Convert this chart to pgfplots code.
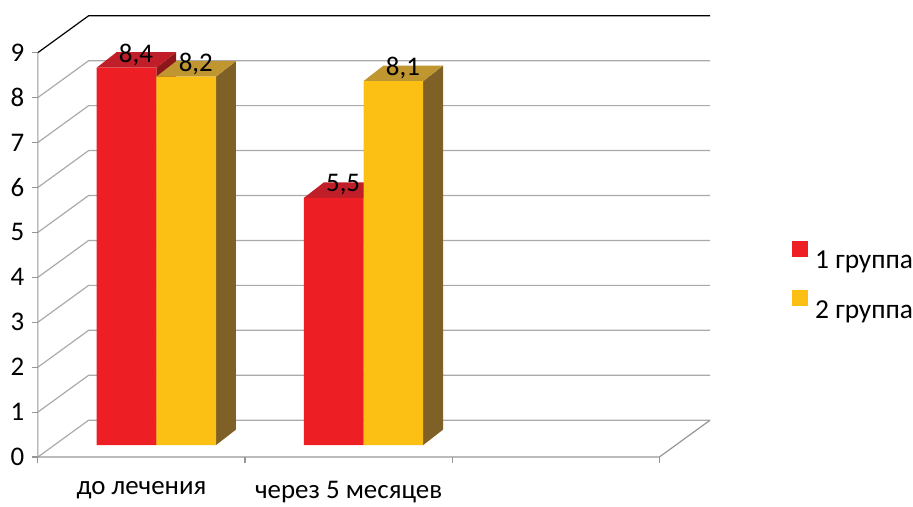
\documentclass[border=0pt]{standalone}
\usepackage{fontspec}
\setmainfont{Carlito}
\usepackage{pgfplots}
\pgfplotsset{compat=1.18}
\definecolor{cRed}{RGB}{237,30,36}
\definecolor{cRedTop}{RGB}{192,30,40}
\definecolor{cRedSide}{RGB}{140,22,26}
\definecolor{cYel}{RGB}{252,192,20}
\definecolor{cYelTop}{RGB}{192,150,48}
\definecolor{cYelSide}{RGB}{127,97,40}
\definecolor{gridc}{RGB}{170,170,170}
\definecolor{tickc}{RGB}{150,150,150}
\begin{document}
\begin{tikzpicture}
\begin{axis}[
  width=913pt, height=502pt, scale only axis,
  xmin=-0.1828, xmax=4.2088, ymin=-0.960, ymax=10.171,
  enlargelimits=false, clip=false,
  axis lines=middle, axis line style={draw=none,-},
  hide obscured x ticks=false, hide obscured y ticks=false,
  ytick={0,1,2,3,4,5,6,7,8,9},
  xtick={0,1,2,3}, xticklabels={,,,},
  extra x ticks={0.5,1.5},
  extra x tick labels={до лечения,через 5 месяцев},
  extra x tick style={major tick length=0pt, xticklabel style={yshift=-21pt}},
  tick align=outside, major tick length=6pt,
  tick style={draw=tickc, line width=1.2pt},
  tick label style={font=\fontsize{27}{32}\selectfont, text=black},
  yticklabel style={xshift=-4pt},
  /pgf/number format/assume math mode=true,
  /pgf/number format/use comma,
  legend cell align=left,
  legend image code/.code={\fill[#1] (0pt,-8pt) rectangle (16pt,8pt);},
  legend style={at={(axis cs:3.641,3.930)}, anchor=west, draw=none, fill=none,
    inner sep=0pt, nodes={inner sep=0pt}, column sep=7pt, row sep=20pt,
    font=\fontsize{27.5}{32}\selectfont},
]
% walls and grid
\addplot[gridc, line width=1.2pt, no marks, forget plot] coordinates {(0,0) (0.245,0.82) (3.245,0.82)};
\addplot[gridc, line width=1.2pt, no marks, forget plot] coordinates {(0,1) (0.245,1.82) (3.245,1.82)};
\addplot[gridc, line width=1.2pt, no marks, forget plot] coordinates {(0,2) (0.245,2.82) (3.245,2.82)};
\addplot[gridc, line width=1.2pt, no marks, forget plot] coordinates {(0,3) (0.245,3.82) (3.245,3.82)};
\addplot[gridc, line width=1.2pt, no marks, forget plot] coordinates {(0,4) (0.245,4.82) (3.245,4.82)};
\addplot[gridc, line width=1.2pt, no marks, forget plot] coordinates {(0,5) (0.245,5.82) (3.245,5.82)};
\addplot[gridc, line width=1.2pt, no marks, forget plot] coordinates {(0,6) (0.245,6.82) (3.245,6.82)};
\addplot[gridc, line width=1.2pt, no marks, forget plot] coordinates {(0,7) (0.245,7.82) (3.245,7.82)};
\addplot[gridc, line width=1.2pt, no marks, forget plot] coordinates {(0,8) (0.245,8.82) (3.245,8.82)};
\addplot[black, line width=1.2pt, no marks, forget plot] coordinates {(0,9) (0.245,9.82) (3.245,9.82)};
% front axis lines
\addplot[tickc, line width=1.2pt, no marks, forget plot] coordinates {(0,9) (0,0) (3,0) (3.245,0.82)};
% red (1 группа)
\addplot[fill=cRedSide, draw=none, forget plot] coordinates {(0.572,0.266) (0.668,0.610) (0.668,9.010) (0.572,8.666)};
\addplot[fill=cRedTop, draw=none, forget plot] coordinates {(0.284,8.666) (0.572,8.666) (0.668,9.010) (0.380,9.010)};
\addplot[fill=cRedSide, draw=none, forget plot] coordinates {(1.572,0.266) (1.668,0.610) (1.668,6.110) (1.572,5.766)};
\addplot[fill=cRedTop, draw=none, forget plot] coordinates {(1.284,5.766) (1.572,5.766) (1.668,6.110) (1.380,6.110)};
\addplot[ybar, bar width=0.288, bar shift=-0.072, fill=cRed, draw=none, yshift=12pt,
  nodes near coords,
  nodes near coords style={anchor=center, xshift=-5.5pt, yshift=13pt, font=\fontsize{27}{32}\selectfont},
  /pgf/number format/.cd, fixed, precision=1, use comma, assume math mode=true]
  coordinates {(0.5,8.4) (1.5,5.5)};
\addlegendentry{1 группа}
% yellow (2 группа)
\addplot[fill=cYelSide, draw=none, forget plot] coordinates {(0.860,0.266) (0.956,0.610) (0.956,8.810) (0.860,8.466)};
\addplot[fill=cYelTop, draw=none, forget plot] coordinates {(0.572,8.466) (0.860,8.466) (0.956,8.810) (0.668,8.810)};
\addplot[fill=cYelSide, draw=none, forget plot] coordinates {(1.860,0.266) (1.956,0.610) (1.956,8.710) (1.860,8.366)};
\addplot[fill=cYelTop, draw=none, forget plot] coordinates {(1.572,8.366) (1.860,8.366) (1.956,8.710) (1.668,8.710)};
\addplot[ybar, bar width=0.288, bar shift=0.216, fill=cYel, draw=none, yshift=12pt,
  nodes near coords,
  nodes near coords style={anchor=center, xshift=54.5pt, yshift=13pt, font=\fontsize{27}{32}\selectfont},
  /pgf/number format/.cd, fixed, precision=1, use comma, assume math mode=true]
  coordinates {(0.5,8.2) (1.5,8.1)};
\addlegendentry{2 группа}
\end{axis}
\end{tikzpicture}
\end{document}
